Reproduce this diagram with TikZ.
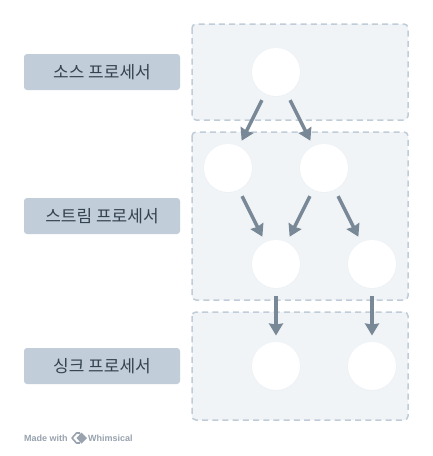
\documentclass[tikz,border=0pt]{standalone}
\usepackage{fontspec}
\setmainfont{Liberation Sans}
\newfontfamily\krfont{Noto Sans CJK KR}
\usetikzlibrary{arrows.meta}
\definecolor{grp}{HTML}{F1F4F7}
\definecolor{grpline}{HTML}{C0CDD8}
\definecolor{lab}{HTML}{C1CEDA}
\definecolor{labtxt}{HTML}{35424F}
\definecolor{conn}{HTML}{788896}
\definecolor{creditgray}{HTML}{98A3AF}
\definecolor{shade}{HTML}{EDF0F3}
\tikzset{
  x=1pt,y=-1pt,
  groupbox/.style={draw=grpline,fill=grp,line width=1.5pt,dash pattern=on 6pt off 4.2pt,rounded corners=4pt},
  labelbox/.style={fill=lab,rounded corners=3pt,minimum width=156pt,minimum height=36pt,inner sep=0pt,
    text=labtxt,font=\krfont\fontsize{17}{19}\selectfont},
  proc/.style={circle,fill=white,minimum size=48pt,inner sep=0pt,outer sep=0pt},
  procshade/.style={circle,fill=shade,minimum size=48.6pt,inner sep=0pt},
  flow/.style={draw=conn,line width=3.5pt,shorten <=7.5pt,shorten >=6.5pt,
    -{Stealth[length=12pt,width=14pt,inset=1pt]}},
  credit/.style={text=creditgray,inner sep=0pt,font=\bfseries\fontsize{9}{10}\selectfont},
}
\begin{document}
\begin{tikzpicture}
\useasboundingbox (0,0) rectangle (432,456);
\fill[white] (0,0) rectangle (432,456);
\draw[groupbox] (192,24) rectangle (408,120);
\draw[groupbox] (192,132) rectangle (408,300);
\draw[groupbox] (192,312) rectangle (408,420);
\node[labelbox] (l1) at (102,72) {\raisebox{-1.4pt}{소스 프로세서}};
\node[labelbox] (l2) at (102,216) {\raisebox{-1.4pt}{스트림 프로세서}};
\node[labelbox] (l3) at (102,366) {\raisebox{-1.4pt}{싱크 프로세서}};
\foreach \p in {(276,72.4),(228,168.4),(324,168.4),(276,264.4),(372,264.4),(276,366.4),(372,366.4)}
  \node[procshade] at \p {};
\node[proc] (a) at (276,72) {};
\node[proc] (b) at (228,168) {};
\node[proc] (c) at (324,168) {};
\node[proc] (d) at (276,264) {};
\node[proc] (e) at (372,264) {};
\node[proc] (f) at (276,366) {};
\node[proc] (g) at (372,366) {};
\draw[flow] (a) -- (b);
\draw[flow] (a) -- (c);
\draw[flow] (b) -- (d);
\draw[flow] (c) -- (d);
\draw[flow] (c) -- (e);
\draw[flow] (d) -- (f);
\draw[flow] (e) -- (g);
\node[credit,anchor=west] (m1) at (24,438) {Made with};
\node[credit,anchor=west] (m2) at (88,438) {Whimsical};
\draw[creditgray,line width=1.6pt,line join=round] (80,433) -- (76.5,433) -- (72,438) -- (76.5,443) -- (80,443);
\fill[creditgray] (76.5,438) -- (81.5,432.5) -- (87,438) -- (81.5,443.5) -- cycle;
\end{tikzpicture}
\end{document}
